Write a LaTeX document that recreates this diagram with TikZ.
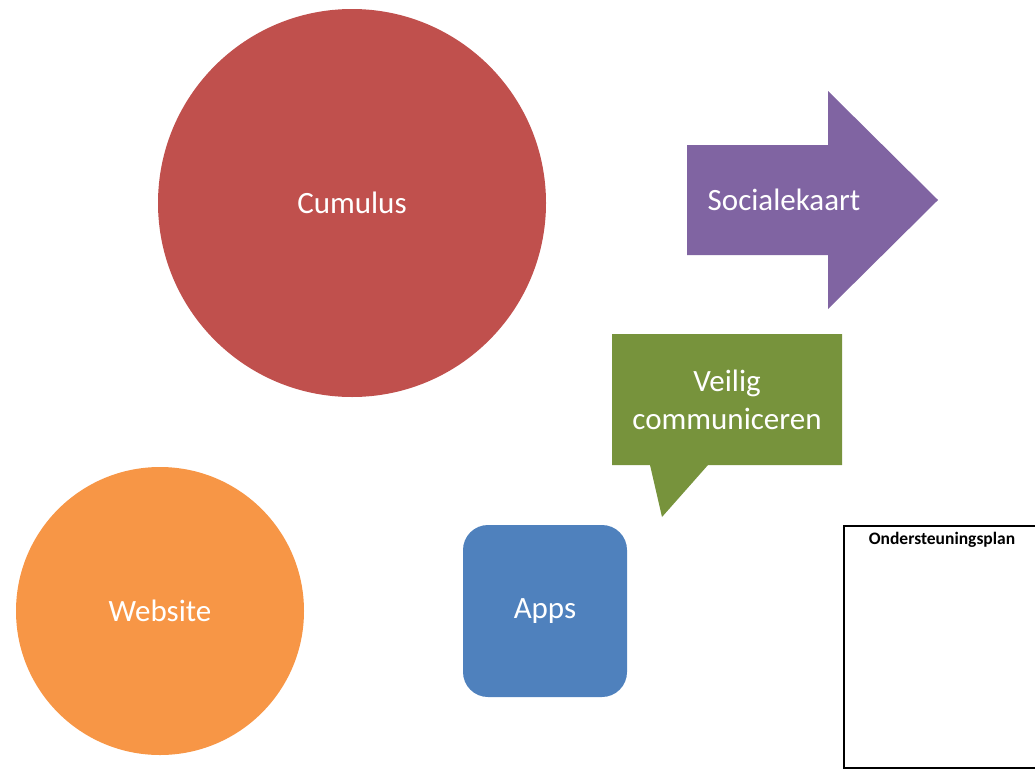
\documentclass[tikz,border=0pt]{standalone}
\usepackage{fontspec}
\setmainfont{Carlito}
\usepackage{tikz}
\usetikzlibrary{positioning}
\definecolor{cumulusred}{HTML}{C0504D}
\definecolor{siteorange}{HTML}{F79646}
\definecolor{appsblue}{HTML}{4F81BD}
\definecolor{talkgreen}{HTML}{77933C}
\definecolor{mappurple}{HTML}{8064A2}
\tikzstyle{blob text}=[text=white, font=\fontsize{31}{38}\selectfont, align=center]
\tikzstyle{blob}=[blob text, circle, inner sep=0pt]
\newcommand{\blobnode}[3][]{
  \node [anchor=center, #1] (#2) {#3}
}

\begin{document}
\begin{tikzpicture}[x=1pt,y=-1pt]
        \useasboundingbox (0,0) rectangle (1035,771);
        \clip (0,0) rectangle (1035,771);
        \blobnode[blob, fill=cumulusred, minimum size=388pt, at={(352,203)}]{cumulus}{Cumulus};
        \blobnode[blob, fill=siteorange, minimum size=288pt, at={(160,611)}]{website}{Website};
        \blobnode[blob text, fill=appsblue, rounded corners=25pt, minimum width=164pt, minimum height=172pt, at={(545,611)}]{apps}{Apps};

        % sociale kaart arrow
        \fill[mappurple] (687,145) -- (828,145) -- (828,91) -- (938,200) -- (828,309) -- (828,255) -- (687,255) -- cycle;
        \blobnode[blob text, at={(784,200)}]{kaart}{Socialekaart};

        % speech bubble
        \fill[talkgreen] (612,334) -- (842,334) -- (842,465) -- (708,465) -- (662,517) -- (650,465) -- (612,465) -- cycle;
        \blobnode[blob text, at={(727,400)}]{veilig}{Veilig\\communiceren};

        \blobnode[draw, line width=2pt, minimum width=196pt, minimum height=242pt, at={(942,647)}]{plan}{};
        \blobnode[below=4pt of plan.north, font=\bfseries\fontsize{17.5}{20}\selectfont]{plantitle}{Ondersteuningsplan};
\end{tikzpicture}
\end{document}
